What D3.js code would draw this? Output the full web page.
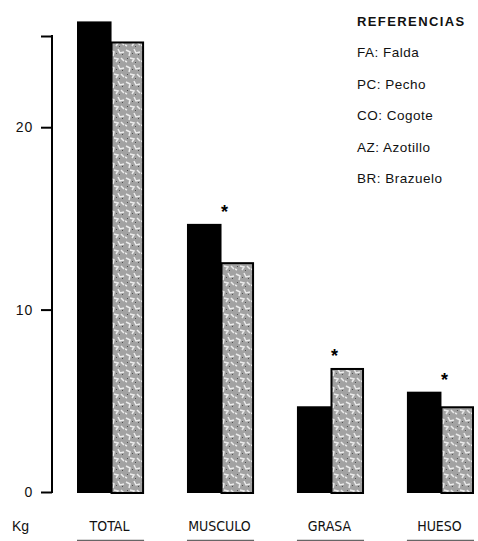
<!DOCTYPE html>
<html>
<head>
<meta charset="utf-8">
<script src="https://cdn.jsdelivr.net/npm/d3@7"></script>
<style>
  body { margin: 0; background: #fff; }
  svg { display: block; }
</style>
</head>
<body>
<div class="chart"></div>
<script>
var width = 478,
  height = 541;

// data
var categories = ['TOTAL', 'MUSCULO', 'GRASA', 'HUESO'];
var seriesA = [25.8, 14.7, 4.7, 5.5];   // black bars
var seriesB = [24.7, 12.6, 6.8, 4.7];   // textured grey bars
var starred = ['MUSCULO', 'GRASA', 'HUESO'];
var tickValues = [0, 10, 20, 25];
var tickLabels = ['0', '10', '20', ''];
var legendTitle = 'REFERENCIAS';
var legendItems = ['FA: Falda', 'PC: Pecho', 'CO: Cogote', 'AZ: Azotillo', 'BR: Brazuelo'];

var data = categories.map(function (c, i) {
  return { name: c, a: seriesA[i], b: seriesB[i] };
});

var svg = d3.select('.chart').append('svg')
  .attr('width', width)
  .attr('height', height);

// speckled grey texture for the second series
var defs = svg.append('defs');
var pat = defs.append('pattern')
  .attr('id', 'speckle')
  .attr('patternUnits', 'userSpaceOnUse')
  .attr('width', 16)
  .attr('height', 16);
pat.append('rect').attr('width', 16).attr('height', 16).attr('fill', '#a2a2a2');
pat.append('path')
  .attr('d', 'M1,2 l4,2 l-1,4 M9,1 l2,4 l4,-1 M5,10 l4,1 l-2,3 M12,10 l3,3 M0,13 l2,1')
  .attr('stroke', '#ececec').attr('stroke-width', 1.5).attr('fill', 'none');
pat.append('path')
  .attr('d', 'M7,5 h1 v1 h-1z M2,10 h1 v1 h-1z M13,6 h1 v1 h-1z M10,14 h1 v1 h-1z')
  .attr('fill', '#505050');

var x = d3.scaleBand()
  .domain(categories)
  .range([77, 474])
  .paddingInner(0.39)
  .paddingOuter(0);

var xs = d3.scaleBand()
  .domain(['a', 'b'])
  .range([0, x.bandwidth()]);

var y = d3.scaleLinear()
  .domain([0, 25])
  .range([492, 36]);

// y axis
var yAxis = d3.axisLeft(y)
  .tickValues(tickValues)
  .tickSize(11)
  .tickPadding(8)
  .tickFormat(function (d, i) { return tickLabels[i]; });

var ga = svg.append('g')
  .attr('transform', 'translate(52,0)')
  .call(yAxis);
ga.select('.domain').remove();
ga.append('line')
  .attr('x1', 0).attr('x2', 0)
  .attr('y1', y(25) - 1).attr('y2', y(0) + 1)
  .attr('stroke', '#000').attr('stroke-width', 2);
ga.selectAll('.tick line').attr('stroke-width', 2);
ga.selectAll('.tick text')
  .attr('fill', '#111')
  .style('font-family', 'Liberation Sans, Arial, sans-serif')
  .style('font-size', '14px')
  .style('letter-spacing', '0.8px');

// bars
var groups = svg.selectAll('.grp')
  .data(data)
  .enter().append('g')
  .attr('class', 'grp')
  .attr('transform', function (d) { return 'translate(' + x(d.name) + ',0)'; });

groups.append('rect')
  .attr('x', xs('a'))
  .attr('y', function (d) { return y(d.a); })
  .attr('width', xs.bandwidth() + 1)
  .attr('height', function (d) { return y(0) + 1 - y(d.a); })
  .attr('fill', '#000');

groups.append('rect')
  .attr('x', xs('b') + 1)
  .attr('y', function (d) { return y(d.b) + 1; })
  .attr('width', xs.bandwidth() - 2)
  .attr('height', function (d) { return y(0) - y(d.b); })
  .attr('fill', 'url(#speckle)')
  .attr('stroke', '#000')
  .attr('stroke-width', 2);

// significance stars
groups.filter(function (d) { return starred.indexOf(d.name) >= 0; })
  .append('text')
  .attr('x', x.bandwidth() / 2 + 4)
  .attr('y', function (d) { return y(Math.max(d.a, d.b)) - 6; })
  .attr('text-anchor', 'middle')
  .style('font-family', 'Liberation Sans, Arial, sans-serif')
  .style('font-size', '18px')
  .style('font-weight', 'bold')
  .text('*');

// category labels
svg.selectAll('.cat')
  .data(categories)
  .enter().append('text')
  .attr('class', 'cat')
  .attr('x', function (d) { return x(d) + x.bandwidth() / 2 - 1; })
  .attr('y', 531)
  .attr('text-anchor', 'middle')
  .attr('fill', '#111')
  .style('font-family', 'Liberation Sans Narrow, DejaVu Sans Condensed, Arial, sans-serif')
  .style('font-size', '14px')
  .text(function (d) { return d; });

svg.selectAll('.under')
  .data(categories)
  .enter().append('line')
  .attr('x1', function (d) { return x(d); })
  .attr('x2', function (d) { return x(d) + x.bandwidth(); })
  .attr('y1', 540.5).attr('y2', 540.5)
  .attr('stroke', '#666').attr('stroke-width', 1.5);

svg.append('text')
  .attr('x', 12)
  .attr('y', 531)
  .attr('fill', '#111')
  .style('font-family', 'Liberation Sans, Arial, sans-serif')
  .style('font-size', '14px')
  .text('Kg');

// legend
var lg = svg.append('g').attr('transform', 'translate(357,0)');
lg.append('text')
  .attr('y', 26)
  .style('font-family', 'Liberation Sans, Arial, sans-serif')
  .style('font-size', '13px')
  .style('font-weight', 'bold')
  .style('letter-spacing', '1.4px')
  .attr('fill', '#111')
  .text(legendTitle);
lg.selectAll('.item')
  .data(legendItems)
  .enter().append('text')
  .attr('class', 'item')
  .attr('y', function (d, i) { return 57 + i * 31.5; })
  .style('font-family', 'Liberation Sans, Arial, sans-serif')
  .style('font-size', '13.5px')
  .style('letter-spacing', '0.5px')
  .attr('fill', '#111')
  .text(function (d) { return d; });
</script>
</body>
</html>
